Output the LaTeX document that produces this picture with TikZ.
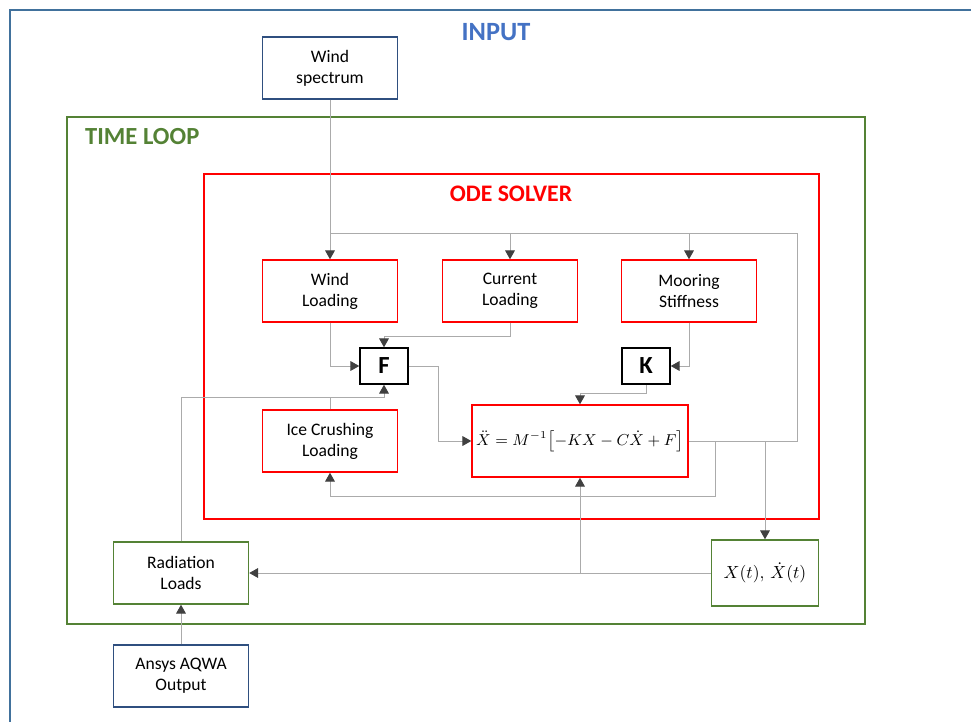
\documentclass[tikz,border=0pt]{standalone}
\usepackage{fontspec}
\setmainfont{Carlito}
\usetikzlibrary{arrows.meta}
\definecolor{inblue}{HTML}{4472C4}
\definecolor{framblue}{HTML}{41719C}
\definecolor{boxblue}{HTML}{2F4F7F}
\definecolor{loopgreen}{HTML}{548235}
\definecolor{linegray}{HTML}{ABABAB}
\definecolor{tipgray}{HTML}{404040}
\begin{document}
\begin{tikzpicture}[x=0.02cm,y=-0.02cm,
    box/.style={draw,line width=0.85pt,align=center,inner sep=0pt,font=\fontsize{10}{12}\selectfont},
    redbox/.style={box,draw=red,minimum width=2.7cm,minimum height=1.24cm},
    greenbox/.style={box,draw=loopgreen},
    bluebox/.style={box,draw=boxblue,minimum width=2.7cm,minimum height=1.24cm},
    symbox/.style={box,draw=black,minimum width=0.96cm,minimum height=0.72cm,font=\fontsize{14}{16}\selectfont\bfseries},
    line/.style={draw=linegray,line width=0.55pt},
    link/.style={line,-{Triangle[width=5.5pt,length=5pt,color=tipgray]}},
    title/.style={font=\fontsize{#1}{#1}\selectfont\bfseries}]
  \useasboundingbox (0,0) rectangle (971,721);
  % frames
  \draw[framblue,line width=1.4pt] (10,725) -- (10,10) -- (975,10);
  \draw[loopgreen,line width=1.3pt] (67,117) rectangle (865,624);
  \draw[red,line width=1.3pt] (204,174) rectangle (819,519);
  \node[title=15,text=inblue] (input) at (496,32) {INPUT};
  \node[title=14,text=loopgreen,anchor=west] (tloop) at (79,137) {TIME LOOP};
  \node[title=13.5,text=red] (ode) at (511,194) {ODE SOLVER};
  % boxes
  \node[bluebox] (spec) at (330,68) {Wind\\spectrum};
  \node[redbox] (wload) at (330,291) {Wind\\Loading};
  \node[redbox] (cload) at (510,291) {Current\\Loading};
  \node[redbox] (mload) at (689,291) {Mooring\\Stiffness};
  \node[symbox] (F) at (384,366) {F};
  \node[symbox] (K) at (646,366) {K};
  \node[redbox] (ice) at (330,441) {Ice Crushing\\Loading};
  \node[box,draw=red,minimum width=4.32cm,minimum height=1.44cm,font=\fontsize{8.6}{10}\selectfont] (eq) at (580,441)
    {$\ddot{X}=M^{-1}\bigl[-KX-C\dot{X}+F\bigr]$};
  \node[greenbox,minimum width=2.7cm,minimum height=1.24cm] (rad) at (181,573) {Radiation\\Loads};
  \node[greenbox,minimum width=2.14cm,minimum height=1.32cm] (xt) at (765,573) {$X(t),\,\dot{X}(t)$};
  \node[bluebox] (aqwa) at (181,676) {Ansys AQWA\\Output};
  % junctions
  \coordinate (tl) at (330,233);
  \coordinate (tr) at (797,233);
  \coordinate (fj) at (384,397);
  \coordinate (icej) at (715,496);
  % connectors
  \draw[link] (spec) -- (wload);
  \draw[line] (eq.east) -| (tr) -- (tl);
  \draw[link] (cload.north |- tl) -- (cload);
  \draw[link] (mload.north |- tl) -- (mload);
  \draw[link] (wload) |- (F);
  \draw[link] (cload.south) -- ++(0,14) -| (F);
  \draw[link] (mload) |- (K);
  \draw[link] (K.south) -- ++(0,9) -| (eq);
  \draw[link] (F.east) -- ++(30,0) |- (eq);
  \draw[link] (rad) |- (fj) -- (F);
  \draw[line] (ice) -- (ice.north |- fj);
  \draw[link] (icej |- eq.east) -- (icej) -| (ice);
  \draw[link] (xt.north |- eq.east) -- (xt);
  \draw[link] (xt) -- (rad);
  \draw[link] (eq.south |- xt.west) -- (eq);
  \draw[link] (aqwa) -- (rad);
\end{tikzpicture}
\end{document}
